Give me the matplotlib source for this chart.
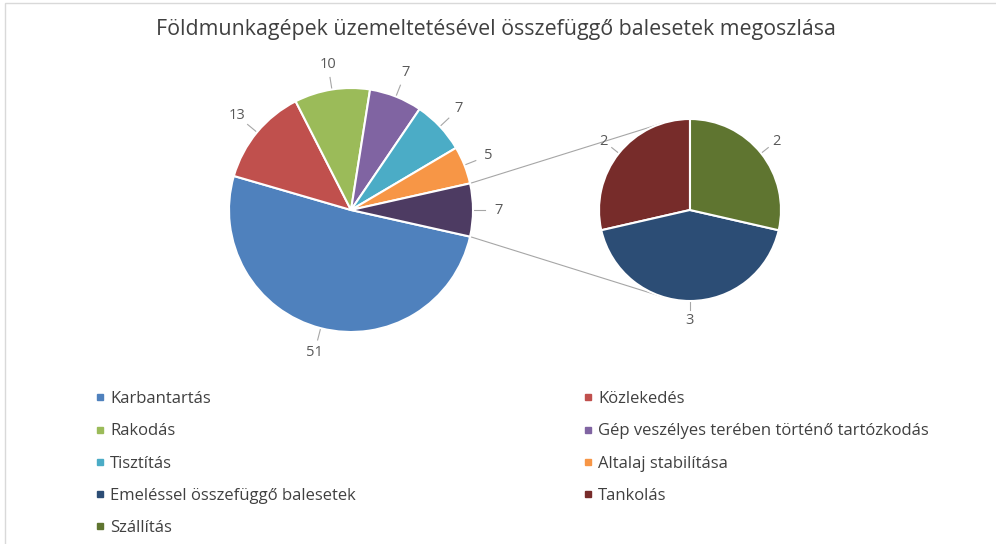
import numpy as np
import matplotlib
matplotlib.use("Agg")
import matplotlib.pyplot as plt
from matplotlib.lines import Line2D
from matplotlib.patches import Rectangle

plt.rcParams['font.family'] = ['Open Sans', 'DejaVu Sans']

# Data
title = "Földmunkagépek üzemeltetésével összefüggő balesetek megoszlása"

categories = ["Karbantartás", "Közlekedés", "Rakodás",
              "Gép veszélyes terében történő tartózkodás", "Tisztítás",
              "Altalaj stabilítása", "Emeléssel összefüggő balesetek",
              "Tankolás", "Szállítás"]
values = [51, 13, 10, 7, 7, 5, 3, 2, 2]
colors = ["#4F81BD", "#C0504D", "#9BBB59", "#8064A2", "#4BACC6",
          "#F79646", "#2C4D75", "#772C2A", "#5F7530"]
other_color = "#4D3B62"

# the last three go into the secondary pie
n_main = 6

W, H = 996, 544
fig = plt.figure(figsize=(W / 100, H / 100), dpi=100)
ax = fig.add_axes([0, 0, 1, 1])

txt = "#404040"
lbl = "#595959"

main_vals = values[:n_main] + [sum(values[n_main:])]
main_cols = colors[:n_main] + [other_color]
sec_vals = [values[7], values[6], values[8]]
sec_cols = [colors[7], colors[6], colors[8]]

c1, r1 = (351, H - 210), 122
c2, r2 = (690, H - 210), 91

other_half = 360 * main_vals[-1] / sum(main_vals) / 2
w1, _ = ax.pie(main_vals, colors=main_cols, center=c1, radius=r1,
               startangle=-other_half, counterclock=False,
               wedgeprops=dict(edgecolor="white", linewidth=1.5), frame=True)
w2, _ = ax.pie(sec_vals, colors=sec_cols, center=c2, radius=r2,
               startangle=90, counterclock=True,
               wedgeprops=dict(edgecolor="white", linewidth=1.5), frame=True)
ax.set_xlim(0, W)
ax.set_ylim(0, H)
ax.set_aspect('equal')
ax.axis('off')

# chart border
ax.add_patch(Rectangle((5, -5), W, H - 3 + 5, fill=False, ec="#D9D9D9", lw=1))


def put_labels(wedges, vals, c, r, k=1.21):
    for w, v in zip(wedges, vals):
        a = np.deg2rad((w.theta1 + w.theta2) / 2)
        ex, ey = c[0] + r * np.cos(a), c[1] + r * np.sin(a)
        lx, ly = c[0] + r * 1.1 * np.cos(a), c[1] + r * 1.1 * np.sin(a)
        tx, ty = c[0] + r * k * np.cos(a), c[1] + r * k * np.sin(a)
        ax.plot([ex, lx], [ey, ly], color="#A6A6A6", lw=0.8, zorder=0)
        ax.text(tx, ty, str(v), ha="center", va="center", fontsize=10.5,
                color=lbl)


put_labels(w1, main_vals, c1, r1)
put_labels(w2, sec_vals, c2, r2)

# connector lines: from the edges of the "other" slice, tangent to the second pie
for sgn in (1, -1):
    a = np.deg2rad(sgn * other_half)
    p = np.array([c1[0] + r1 * np.cos(a), c1[1] + r1 * np.sin(a)])
    d = p - np.array(c2)
    dist = np.hypot(*d)
    base = np.arctan2(d[1], d[0])
    t = base - sgn * np.arccos(r2 / dist)
    q = (c2[0] + r2 * np.cos(t), c2[1] + r2 * np.sin(t))
    ax.plot([p[0], q[0]], [p[1], q[1]], color="#A6A6A6", lw=0.8, zorder=0)

ax.text(496, H - 29, title, ha="center", va="center", fontsize=15.4,
        color=txt)

handles = [Line2D([], [], marker="s", ls="", markersize=4, color=col)
           for col in colors]
leg_kw = dict(loc="upper left", frameon=False, fontsize=12, labelspacing=0.98,
              handletextpad=0.3, handlelength=0.6, borderpad=0,
              borderaxespad=0, labelcolor=txt)
leg1 = ax.legend(handles[0::2], categories[0::2],
                 bbox_to_anchor=(95 / W, 1 - 391 / H), **leg_kw)
ax.add_artist(leg1)
ax.legend(handles[1::2], categories[1::2],
          bbox_to_anchor=(583 / W, 1 - 391 / H), **leg_kw)

fig.savefig("out.png", dpi=100)
